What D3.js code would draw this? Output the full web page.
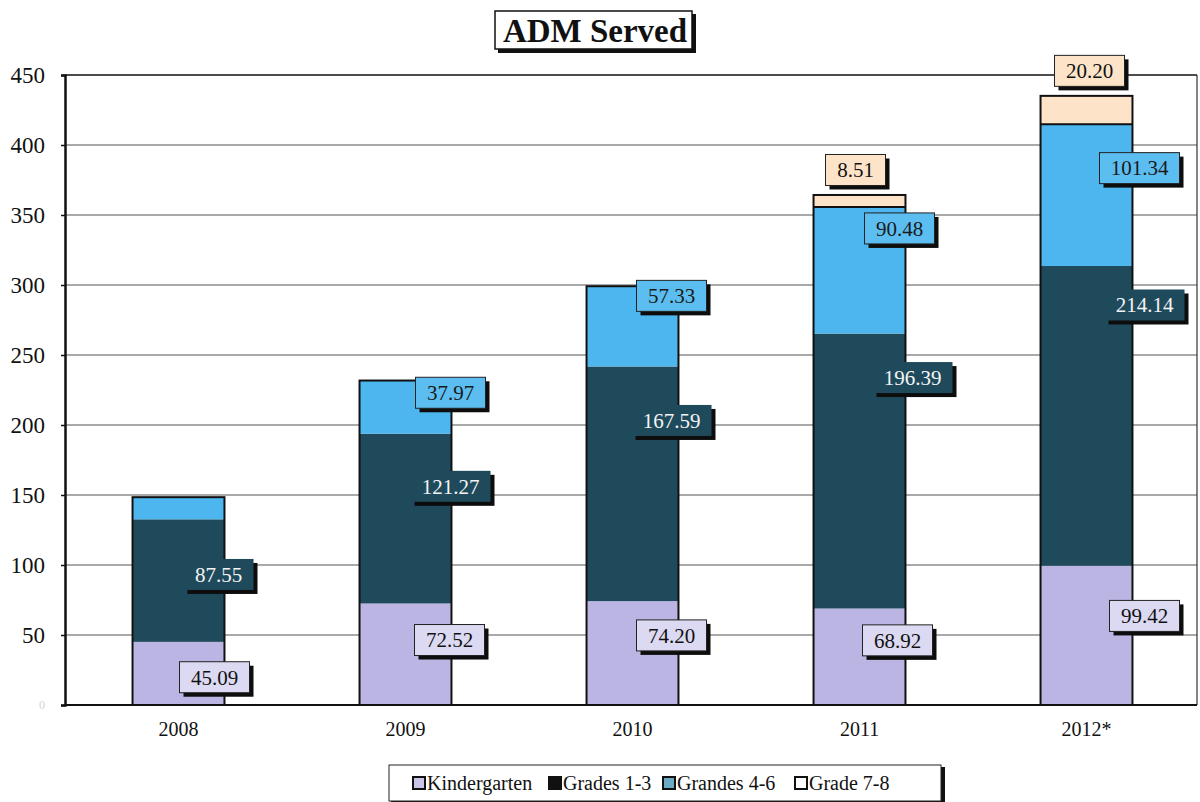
<!DOCTYPE html>
<html>
<head>
<meta charset="utf-8">
<script src="https://cdn.jsdelivr.net/npm/d3@7"></script>
<style>
  html, body { margin: 0; padding: 0; background: #fff; }
  svg { display: block; }
</style>
</head>
<body>
<svg id="chart" width="1200" height="802"></svg>
<script>
// ADM served by grade band, per school year
const years = ["2008", "2009", "2010", "2011", "2012*"];
const seriesNames = ["Kindergarten", "Grades 1-3", "Grandes 4-6", "Grade 7-8"];
const kindergarten = [45.09, 72.52, 74.20, 68.92, 99.42];
const grades1to3 = [87.55, 121.27, 167.59, 196.39, 214.14];
const grades4to6 = [15.8, 37.97, 57.33, 90.48, 101.34];
const grades7to8 = [0, 0, 0, 8.51, 20.20];
const yTicks = [0, 50, 100, 150, 200, 250, 300, 350, 400, 450];
// which values carry a data label
const labelShown = [
  [true, true, true, true, true],
  [true, true, true, true, true],
  [false, true, true, true, true],
  [false, false, false, true, true]
];

// label placement: fraction of the way up each segment, and horizontal nudge from bar centre
const labelFrac = [
  [0.44, 0.64, 0.67, 0.67, 0.64],
  [0.55, 0.69, 0.77, 0.84, 0.87],
  [0.5, 0.77, 0.88, 0.83, 0.69],
  [0, 0, 0, 0, 0]
];
const labelDx = [
  [36, 44, 39, 38, 58],
  [40, 45, 39, 53, 58],
  [0, 45, 39, 40, 53],
  [0, 0, 0, -4, 3]
];

const fills = ["#bab5e3", "#1f4a5c", "#4db6ee", "#fde4c9"];
const labelFills = ["#dcdaf2", "#1f4a5c", "#5cbef0", "#fde4c9"];
const labelText = ["#111", "#f4f4f4", "#1a1a1a", "#111"];

const svg = d3.select("#chart");
const serif = "'Liberation Serif', 'DejaVu Serif', serif";

const x = d3.scaleBand().domain(years).range([65, 1200]).paddingInner(0.595).paddingOuter(0.2975);
const y = d3.scaleLinear().domain([0, 450]).range([705, 75]);

const values = [kindergarten, grades1to3, grades4to6, grades7to8];
const rows = years.map((yr, i) => {
  const r = { year: yr };
  seriesNames.forEach((s, k) => r[s] = values[k][i]);
  return r;
});
const stacked = d3.stack().keys(seriesNames)(rows);

// gridlines
svg.append("g")
  .selectAll("line")
  .data(yTicks.filter(t => t > 0 && t < 450))
  .join("line")
  .attr("x1", 65).attr("x2", 1197)
  .attr("y1", d => y(d)).attr("y2", d => y(d))
  .attr("stroke", "#555").attr("stroke-width", 1.2);

// plot frame (top and right)
svg.append("line").attr("x1", 65).attr("x2", 1197).attr("y1", y(450)).attr("y2", y(450))
  .attr("stroke", "#111").attr("stroke-width", 1.6);
svg.append("line").attr("x1", 1197).attr("x2", 1197).attr("y1", y(450)).attr("y2", y(0))
  .attr("stroke", "#333").attr("stroke-width", 1.2);

// stacked segments
const layers = svg.append("g").selectAll("g")
  .data(stacked)
  .join("g")
  .attr("fill", (d, k) => fills[k]);
layers.selectAll("rect")
  .data(d => d)
  .join("rect")
  .attr("x", d => x(d.data.year))
  .attr("width", x.bandwidth())
  .attr("y", d => y(d[1]))
  .attr("height", d => y(d[0]) - y(d[1]));

// outline around each full stack
const topLayer = stacked[stacked.length - 1];
svg.append("g").selectAll("rect")
  .data(topLayer)
  .join("rect")
  .attr("x", d => x(d.data.year))
  .attr("width", x.bandwidth())
  .attr("y", d => y(d[1]))
  .attr("height", d => y(0) - y(d[1]))
  .attr("fill", "none")
  .attr("stroke", "#111")
  .attr("stroke-width", 2);
// divider between grades 4-6 and grade 7-8 where present
svg.append("g").selectAll("line")
  .data(stacked[3].filter(d => d[1] > d[0]))
  .join("line")
  .attr("x1", d => x(d.data.year)).attr("x2", d => x(d.data.year) + x.bandwidth())
  .attr("y1", d => y(d[0])).attr("y2", d => y(d[0]))
  .attr("stroke", "#111").attr("stroke-width", 2);

// axes
const yAxis = d3.axisLeft(y).tickValues(yTicks).tickSize(4).tickFormat(d3.format("d"));
const gy = svg.append("g").attr("transform", "translate(65,0)").call(yAxis);
gy.attr("font-family", serif);
gy.select(".domain").attr("stroke", "#111").attr("stroke-width", 2.5);
gy.selectAll(".tick line").attr("stroke", "#111").attr("stroke-width", 1.5);
gy.selectAll(".tick text")
  .attr("x", -20)
  .attr("font-family", serif).attr("font-size", 23).attr("fill", "#111")
  .filter(d => d === 0).attr("fill", "#d4d4d4").attr("font-size", 12);

const xAxis = d3.axisBottom(x).tickSize(0).tickPadding(17);
const gx = svg.append("g").attr("transform", `translate(0,${y(0)})`).call(xAxis);
gx.attr("font-family", serif);
gx.select(".domain").attr("stroke", "#111").attr("stroke-width", 2).attr("d", "M65,0H1197");
gx.selectAll(".tick text").attr("font-family", serif).attr("font-size", 20).attr("fill", "#111");

// data labels
const labels = [];
stacked.forEach((layer, k) => {
  layer.forEach((d, i) => {
    if (!labelShown[k][i]) return;
    const v = values[k][i];
    const cx = x(d.data.year) + x.bandwidth() / 2 + labelDx[k][i];
    const cy = k === 3 ? y(d[1]) - 25 : y(d[0] + (d[1] - d[0]) * labelFrac[k][i]);
    labels.push({ k, v, cx, cy });
  });
});
const lg = svg.append("g").selectAll("g").data(labels).join("g")
  .attr("transform", d => `translate(${d.cx},${d.cy})`);
lg.each(function (d) {
  const g = d3.select(this);
  const txt = d3.format(".2f")(d.v);
  const w = txt.length * 10 + 20, h = 31;
  g.append("rect").attr("x", -w / 2 + 4).attr("y", -h / 2 + 4).attr("width", w).attr("height", h)
    .attr("fill", "#0d0d0d");
  g.append("rect").attr("x", -w / 2).attr("y", -h / 2).attr("width", w).attr("height", h)
    .attr("fill", labelFills[d.k])
    .attr("stroke", d.k === 1 ? "none" : "#222").attr("stroke-width", 1);
  g.append("text").attr("text-anchor", "middle").attr("dy", "0.35em")
    .attr("font-family", serif).attr("font-size", 21).attr("fill", labelText[d.k])
    .text(txt);
});

// title
const title = svg.append("g").attr("transform", "translate(595,30)");
title.append("rect").attr("x", -97).attr("y", -16).attr("width", 198).attr("height", 39).attr("fill", "#111");
title.append("rect").attr("x", -100).attr("y", -19).attr("width", 197).attr("height", 38)
  .attr("fill", "#fff").attr("stroke", "#111").attr("stroke-width", 1.5);
title.append("text").attr("text-anchor", "middle").attr("dy", "0.36em")
  .attr("font-family", serif).attr("font-weight", "bold").attr("font-size", 33).attr("fill", "#111")
  .text("ADM Served");

// legend
const legend = svg.append("g").attr("transform", "translate(389,765)");
legend.append("rect").attr("x", 2).attr("y", 2).attr("width", 554).attr("height", 38).attr("fill", "#111");
legend.append("rect").attr("x", 0).attr("y", 0).attr("width", 552).attr("height", 36)
  .attr("fill", "#fff").attr("stroke", "#222").attr("stroke-width", 1);
const legendX = [24, 160, 274, 406];
const swatchFills = ["#c8c4ea", "#111", "#6aaac4", "#fff"];
const items = legend.selectAll("g.item").data(seriesNames).join("g")
  .attr("class", "item")
  .attr("transform", (d, i) => `translate(${legendX[i]},18)`);
items.append("rect").attr("x", 0).attr("y", -6).attr("width", 12).attr("height", 12)
  .attr("fill", (d, i) => swatchFills[i]).attr("stroke", "#111").attr("stroke-width", 2);
items.append("text").attr("x", 14).attr("dy", "0.35em")
  .attr("font-family", serif).attr("font-size", 20).attr("fill", "#111")
  .text(d => d);
</script>
</body>
</html>
